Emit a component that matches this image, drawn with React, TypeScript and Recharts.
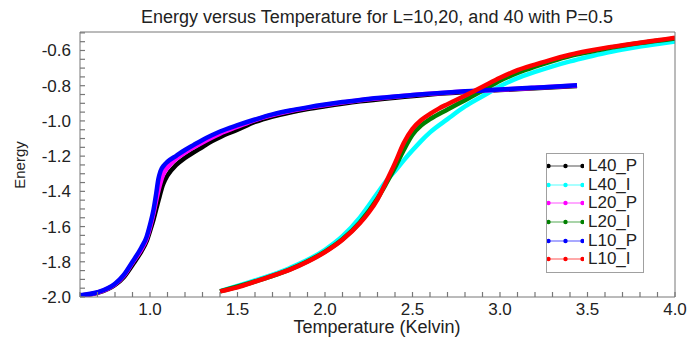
import React from 'react';
import { LineChart, Line, XAxis, YAxis, Legend } from 'recharts';

// tick values
const xTicks = [0.6, 0.7, 0.8, 0.9, 1.0, 1.1, 1.2, 1.3, 1.4, 1.5, 1.6, 1.7, 1.8, 1.9, 2.0, 2.1, 2.2, 2.3, 2.4, 2.5, 2.6, 2.7, 2.8, 2.9, 3.0, 3.1, 3.2, 3.3, 3.4, 3.5, 3.6, 3.7, 3.8, 3.9, 4.0];
const xLabels = [1.0, 1.5, 2.0, 2.5, 3.0, 3.5, 4.0];
const yTicks = [-2.0, -1.95, -1.9, -1.85, -1.8, -1.75, -1.7, -1.65, -1.6, -1.55, -1.5, -1.45, -1.4, -1.35, -1.3, -1.25, -1.2, -1.15, -1.1, -1.05, -1.0, -0.95, -0.9, -0.85, -0.8, -0.75, -0.7, -0.65, -0.6, -0.55, -0.5];
const yLabels = [-2.0, -1.8, -1.6, -1.4, -1.2, -1.0, -0.8, -0.6];

// L40_P
const l40pT = [0.6, 0.7, 0.8, 0.85, 0.9, 0.95, 0.98, 1.0, 1.02, 1.05, 1.075, 1.1, 1.15, 1.2, 1.25, 1.3, 1.35, 1.4, 1.5, 1.6, 1.7, 1.8, 1.9, 2.0, 2.2, 2.4, 2.6, 2.8, 3.0, 3.2, 3.44];
const l40pE = [-1.992, -1.977, -1.932, -1.888, -1.818, -1.742, -1.685, -1.625, -1.56, -1.445, -1.36, -1.31, -1.25, -1.21, -1.178, -1.148, -1.117, -1.092, -1.05, -1.006, -0.975, -0.952, -0.933, -0.917, -0.889, -0.868, -0.85, -0.836, -0.825, -0.814, -0.801];
// L40_I
const l40iT = [1.4, 1.6, 1.8, 2.0, 2.1, 2.2, 2.3, 2.35, 2.4, 2.45, 2.5, 2.55, 2.6, 2.7, 2.8, 2.9, 3.0, 3.1, 3.2, 3.3, 3.4, 3.5, 3.6, 3.7, 3.8, 3.9, 4.0];
const l40iE = [-1.967, -1.906, -1.835, -1.732, -1.655, -1.548, -1.41, -1.34, -1.285, -1.224, -1.167, -1.113, -1.065, -0.99, -0.918, -0.86, -0.803, -0.757, -0.722, -0.69, -0.662, -0.637, -0.614, -0.595, -0.578, -0.563, -0.549];
// L20_P
const l20pT = [0.6, 0.7, 0.8, 0.85, 0.9, 0.95, 0.98, 1.0, 1.02, 1.04, 1.06, 1.075, 1.1, 1.15, 1.2, 1.25, 1.3, 1.4, 1.5, 1.6, 1.8, 2.0, 2.2, 2.4, 2.6, 2.8, 3.0, 3.2, 3.44];
const l20pE = [-1.991, -1.975, -1.928, -1.88, -1.805, -1.73, -1.67, -1.605, -1.525, -1.43, -1.35, -1.305, -1.265, -1.215, -1.18, -1.15, -1.122, -1.072, -1.033, -0.995, -0.944, -0.91, -0.883, -0.863, -0.846, -0.833, -0.823, -0.812, -0.799];
// L20_I
const l20iT = [1.4, 1.6, 1.8, 2.0, 2.1, 2.2, 2.3, 2.35, 2.4, 2.45, 2.5, 2.55, 2.6, 2.7, 2.8, 2.9, 3.0, 3.1, 3.2, 3.3, 3.4, 3.5, 3.6, 3.7, 3.8, 3.9, 4.0];
const l20iE = [-1.968, -1.912, -1.843, -1.742, -1.672, -1.575, -1.44, -1.355, -1.265, -1.165, -1.078, -1.025, -0.99, -0.935, -0.882, -0.828, -0.772, -0.728, -0.692, -0.66, -0.632, -0.61, -0.59, -0.573, -0.558, -0.545, -0.532];
// L10_P
const l10pT = [0.6, 0.7, 0.8, 0.85, 0.9, 0.95, 0.98, 1.0, 1.02, 1.035, 1.048, 1.06, 1.08, 1.1, 1.15, 1.2, 1.25, 1.3, 1.35, 1.4, 1.5, 1.6, 1.7, 1.8, 1.9, 2.0, 2.1, 2.2, 2.3, 2.4, 2.5, 2.6, 2.7, 2.8, 2.9, 3.0, 3.1, 3.2, 3.3, 3.44];
const l10pE = [-1.99, -1.973, -1.925, -1.875, -1.8, -1.72, -1.66, -1.59, -1.505, -1.415, -1.33, -1.285, -1.252, -1.232, -1.198, -1.165, -1.136, -1.108, -1.083, -1.06, -1.024, -0.992, -0.963, -0.941, -0.923, -0.907, -0.893, -0.881, -0.87, -0.861, -0.853, -0.845, -0.838, -0.832, -0.827, -0.822, -0.816, -0.811, -0.806, -0.798];
// L10_I
const l10iT = [1.4, 1.5, 1.6, 1.7, 1.8, 1.9, 2.0, 2.1, 2.2, 2.25, 2.3, 2.35, 2.4, 2.45, 2.5, 2.55, 2.6, 2.65, 2.7, 2.8, 2.9, 3.0, 3.1, 3.2, 3.3, 3.4, 3.5, 3.6, 3.7, 3.8, 3.9, 4.0];
const l10iE = [-1.968, -1.945, -1.913, -1.88, -1.845, -1.8, -1.745, -1.675, -1.58, -1.52, -1.445, -1.345, -1.24, -1.125, -1.045, -0.995, -0.96, -0.93, -0.905, -0.857, -0.806, -0.755, -0.712, -0.68, -0.65, -0.624, -0.603, -0.585, -0.57, -0.556, -0.542, -0.528];

const toPoints = (t: number[], e: number[]) => t.map((v, i) => ({ t: v, e: e[i] }));

const series = [
  { name: 'L40_P', color: '#000000', data: toPoints(l40pT, l40pE) },
  { name: 'L40_I', color: '#00ffff', data: toPoints(l40iT, l40iE) },
  { name: 'L20_P', color: '#ff00ff', data: toPoints(l20pT, l20pE) },
  { name: 'L20_I', color: '#008000', data: toPoints(l20iT, l20iE) },
  { name: 'L10_P', color: '#0000ff', data: toPoints(l10pT, l10pE) },
  { name: 'L10_I', color: '#ff0000', data: toPoints(l10iT, l10iE) },
];

const AXIS = '#777';
const TEXT = '#222';
const FONT = '"Liberation Sans", Arial, sans-serif';
const LABEL_SIZE = 17;
const tickLineStyle = { stroke: '#777', strokeWidth: 1.2 };
const xDomain = [0.6, 4.0];
const yDomain = [-2.0, -0.495];

const inList = (list: number[], v: number) => list.some(t => Math.abs(t - v) < 1e-6);

// tick lines are native and point inward (negative tickSize); labels only on major values
const BottomLabel = (props: any) =>
  inList(xLabels, props.payload.value) ? (
    <text x={props.x} y={Number(props.y) + 23} textAnchor="middle" fill={TEXT} fontSize={LABEL_SIZE} fontFamily={FONT}>
      {props.payload.value.toFixed(1)}
    </text>
  ) : (
    <g />
  );

const LeftLabel = (props: any) =>
  inList(yLabels, props.payload.value) ? (
    <text x={Number(props.x) - 14} y={Number(props.y) + 6} textAnchor="end" fill={TEXT} fontSize={LABEL_SIZE} fontFamily={FONT}>
      {props.payload.value.toFixed(1)}
    </text>
  ) : (
    <g />
  );

const LegendBox = () => (
  <div
    style={{
      border: '1px solid #a0a0a0',
      background: '#fff',
      width: 98,
      height: 120,
      boxSizing: 'border-box',
      paddingTop: 3,
      fontFamily: FONT,
      fontSize: LABEL_SIZE,
      color: TEXT,
    }}
  >
    {series.map(s => (
      <div key={s.name} style={{ display: 'flex', alignItems: 'center', height: 18.6 }}>
        <svg width={37} height={10} style={{ flex: 'none' }}>
          <line x1={1.5} x2={35.5} y1={5} y2={5} stroke={s.color} strokeOpacity={0.45} strokeWidth={1.5} />
          {[1.5, 18.5, 35.5].map(cx => (
            <circle key={cx} cx={cx} cy={5} r={2.2} fill={s.color} />
          ))}
        </svg>
        <span style={{ marginLeft: 4, lineHeight: '18px', whiteSpace: 'nowrap' }}>{s.name}</span>
      </div>
    ))}
  </div>
);

export default function App() {
  return (
    <div style={{ position: 'absolute', left: 0, top: 0, width: 692, height: 337, background: '#fff' }}>
      <div
        style={{
          position: 'absolute',
          left: 377,
          top: 7,
          transform: 'translateX(-50%)',
          whiteSpace: 'nowrap',
          fontFamily: FONT,
          fontSize: 18,
          lineHeight: '20px',
          color: TEXT,
        }}
      >
        Energy versus Temperature for L=10,20, and 40 with P=0.5
      </div>
      <LineChart width={692} height={337} margin={{ top: 31, right: 16, bottom: 0, left: 0 }}>
        <XAxis
          dataKey="t"
          type="number"
          domain={xDomain}
          allowDataOverflow
          ticks={xTicks}
          interval={0}
          height={40}
          tickSize={-5}
          tickMargin={0}
          tickLine={tickLineStyle}
          tick={<BottomLabel />}
          stroke={AXIS}
        />
        <XAxis
          xAxisId="top"
          orientation="top"
          dataKey="t"
          type="number"
          domain={xDomain}
          allowDataOverflow
          ticks={xTicks}
          interval={0}
          height={1}
          tickSize={-5}
          tickLine={tickLineStyle}
          tick={false}
          stroke={AXIS}
        />
        <YAxis
          type="number"
          domain={yDomain}
          allowDataOverflow
          ticks={yTicks}
          interval={0}
          width={80}
          tickSize={-5}
          tickMargin={0}
          tickLine={tickLineStyle}
          tick={<LeftLabel />}
          stroke={AXIS}
        />
        <YAxis
          yAxisId="right"
          orientation="right"
          type="number"
          domain={yDomain}
          allowDataOverflow
          ticks={yTicks}
          interval={0}
          width={1}
          tickSize={-5}
          tickLine={tickLineStyle}
          tick={false}
          stroke={AXIS}
        />
        {series.map(s => (
          <Line
            key={s.name}
            name={s.name}
            data={s.data}
            dataKey="e"
            type="monotone"
            stroke={s.color}
            strokeWidth={4.5}
            dot={false}
            activeDot={false}
            isAnimationActive={false}
          />
        ))}
        <Legend
          layout="vertical"
          align="center"
          verticalAlign="middle"
          content={<LegendBox />}
          wrapperStyle={{ position: 'absolute', left: 546, top: 153, width: 98, height: 120 }}
        />
      </LineChart>
      <div
        style={{
          position: 'absolute',
          left: 377,
          top: 317,
          transform: 'translateX(-50%)',
          whiteSpace: 'nowrap',
          fontFamily: FONT,
          fontSize: 18,
          lineHeight: '20px',
          color: TEXT,
        }}
      >
        Temperature (Kelvin)
      </div>
      <div
        style={{
          position: 'absolute',
          left: 20,
          top: 165,
          transform: 'translate(-50%, -50%) rotate(-90deg)',
          whiteSpace: 'nowrap',
          fontFamily: FONT,
          fontSize: 15,
          lineHeight: '18px',
          color: TEXT,
        }}
      >
        Energy
      </div>
    </div>
  );
}
